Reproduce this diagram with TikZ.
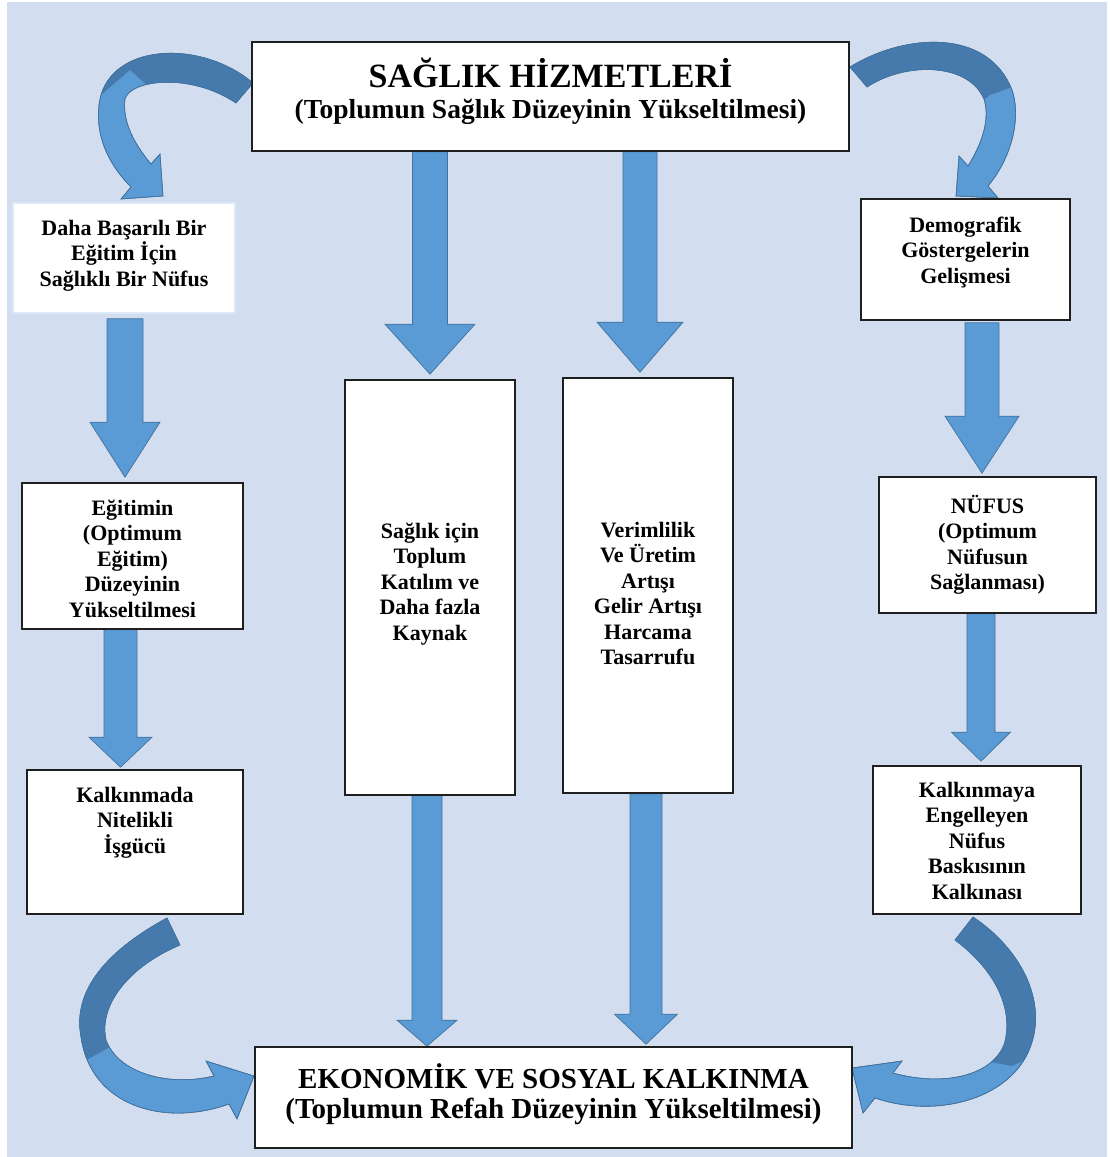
\documentclass[tikz,border=0pt]{standalone}
\usepackage{fontspec}
\setmainfont{Liberation Serif}
\usetikzlibrary{calc}
\definecolor{bgblue}{RGB}{210,222,239}
\definecolor{arrlight}{RGB}{91,155,213}
\definecolor{arrdark}{RGB}{70,122,172}
\definecolor{arredge}{RGB}{65,113,156}
\definecolor{dahaedge}{RGB}{222,232,246}
\pgfdeclarelayer{bglayer}
\pgfsetlayers{bglayer,main}
\tikzset{
  box/.style={draw=black!88, line width=1.6pt, fill=white, inner sep=0pt,
    font=\bfseries\fontsize{22}{25.5}\selectfont},
  softbox/.style={box, draw=dahaedge},
  bigbox/.style={box, font=\bfseries},
  barrow/.style={fill=arrlight, draw=arredge, line width=0.7pt, line join=miter},
  carrow/.style={fill=arrlight, draw=arredge, line width=0.6pt},
  cdark/.style={fill=arrdark},
}
\newcommand\bx[4]{\parbox[t][#2][t]{#1}{\centering\rule{0pt}{#3}#4}}
\newcommand\blockarr[5]{%
  \path[barrow] let \p1=#1, \p2=#2 in
    ({\x1-#3},\y1) -- ({\x1+#3},\y1) -- ({\x1+#3},{\y2+#5}) -- ({\x1+#4},{\y2+#5})
    -- (\x1,\y2) -- ({\x1-#4},{\y2+#5}) -- ({\x1-#3},{\y2+#5}) -- cycle;}
\newcommand\pathTL{(253,83) .. controls (200,38) and (106,43) .. (99,105) .. controls (95,140) and (112,168) .. (131,187) -- (121,199) -- (163,196) -- (160,154) -- (151,164) .. controls (135,145) and (122,122) .. (125,99) .. controls (130,80) and (190,72) .. (236,103) -- cycle}
\newcommand\pathTR{(850,67) .. controls (905,33) and (988,28) .. (1012,90) .. controls (1022,120) and (1010,160) .. (988,186) -- (998,198) -- (956,196) -- (959,156) -- (968,166) .. controls (983,142) and (990,118) .. (984,99) .. controls (968,62) and (905,62) .. (867,87) -- cycle}
\newcommand\pathBL{(167,918) .. controls (108,950) and (72,990) .. (81,1037) .. controls (91,1107) and (165,1127) .. (229,1104) -- (237,1119) -- (254,1076) -- (206,1061) -- (214,1076) .. controls (168,1087) and (118,1073) .. (106,1040) .. controls (98,1003) and (132,965) .. (180,945) -- cycle}
\newcommand\pathBR{(973,917) .. controls (1022,950) and (1045,1000) .. (1032,1042) .. controls (1016,1097) and (940,1120) .. (875,1098) -- (863,1113) -- (852,1068) -- (902,1061) -- (893,1073) .. controls (940,1086) and (990,1078) .. (1004,1045) .. controls (1014,1012) and (998,972) .. (955,940) -- cycle}
\begin{document}
\begin{tikzpicture}[x=1pt,y=-1pt]
\useasboundingbox (0,0) rectangle (1110,1157);
% boxes
\node[bigbox] (sag) at (550.5,96.5) {\bx{597pt}{109pt}{45pt}{\fontsize{27.5}{31}\selectfont{\fontsize{34}{31}\selectfont SAĞLIK HİZMETLERİ}\\(Toplumun Sağlık Düzeyinin Yükseltilmesi)}};
\node[softbox] (daha) at (124,258) {\bx{222pt}{110pt}{32pt}{Daha Başarılı Bir\\Eğitim İçin\\Sağlıklı Bir Nüfus}};
\node[box] (demo) at (965.5,259.5) {\bx{209pt}{121pt}{33pt}{Demografik\\Göstergelerin\\Gelişmesi}};
\node[box] (egit) at (132.5,556) {\bx{221pt}{146pt}{32pt}{Eğitimin\\(Optimum\\Eğitim)\\Düzeyinin\\Yükseltilmesi}};
\node[box] (kalkL) at (135,842) {\bx{216pt}{144pt}{32pt}{Kalkınmada\\Nitelikli\\İşgücü}};
\node[box] (mid1) at (430,587.5) {\bx{170pt}{415pt}{158pt}{Sağlık için\\Toplum\\Katılım ve\\Daha fazla\\Kaynak}};
\node[box] (mid2) at (648,585.5) {\bx{170pt}{415pt}{159pt}{Verimlilik\\Ve Üretim\\Artışı\\Gelir Artışı\\Harcama\\Tasarrufu}};
\node[box] (nufus) at (987.5,545) {\bx{217pt}{136pt}{36pt}{NÜFUS\\(Optimum\\Nüfusun\\Sağlanması)}};
\node[box] (kalkR) at (977,840) {\bx{208pt}{148pt}{31pt}{Kalkınmaya\\Engelleyen\\Nüfus\\Baskısının\\Kalkınası}};
\node[bigbox] (eko) at (553.5,1097.5) {\bx{597pt}{101pt}{41pt}{\fontsize{29}{30.5}\selectfont EKONOMİK VE SOSYAL KALKINMA\\(Toplumun Refah Düzeyinin Yükseltilmesi)}};
% arrow axes
\coordinate (cA1) at (125,0);
\coordinate (cA2) at (120.5,0);
\coordinate (cA3) at (430,0);
\coordinate (cA4) at (640,0);
\coordinate (cA5) at (427,0);
\coordinate (cA6) at (646,0);
\coordinate (cA7) at (982,0);
\coordinate (cA8) at (981,0);
\begin{pgfonlayer}{bglayer}
\fill[bgblue] (7,2) rectangle (1107,1157);
% curved arrows
\foreach \p/\c in {TL/{(60,130) -- (130,70) -- (175,110) -- (300,110) -- (300,0) -- (60,0) -- cycle},
                    TR/{(800,0) -- (1060,0) -- (1060,70) -- (990,95) -- (930,140) -- (800,140) -- cycle},
                    BL/{(40,880) -- (260,880) -- (260,1000) -- (140,1030) -- (60,1075) -- (40,1075) -- cycle},
                    BR/{(900,880) -- (1100,880) -- (1100,1025) -- (1012,1066) -- (980,1060) -- (900,1000) -- cycle}}{
  \path[carrow] \csname path\p\endcsname;
  \begin{scope}
    \clip \c;
    \path[cdark] \csname path\p\endcsname;
  \end{scope}
  \path[draw=arredge, line width=0.6pt] \csname path\p\endcsname;
}
% straight arrows
\blockarr{($(daha.south -| cA1)+(0,5)$)}{($(egit.north -| cA1)+(0,-5)$)}{18pt}{35pt}{55pt}
\blockarr{(egit.south -| cA2)}{($(kalkL.north -| cA2)+(0,-2)$)}{16.5pt}{31.5pt}{30pt}
\blockarr{(sag.south -| cA3)}{($(mid1.north -| cA3)+(0,-5)$)}{17.5pt}{45pt}{50pt}
\blockarr{(sag.south -| cA4)}{($(mid2.north -| cA4)+(0,-5)$)}{17pt}{43pt}{50pt}
\blockarr{(mid1.south -| cA5)}{(eko.north -| cA5)}{15pt}{30pt}{26pt}
\blockarr{(mid2.south -| cA6)}{($(eko.north -| cA6)+(0,-2)$)}{16pt}{31.5pt}{30pt}
\blockarr{($(demo.south -| cA7)+(0,2)$)}{($(nufus.north -| cA7)+(0,-3)$)}{17pt}{37pt}{57pt}
\blockarr{(nufus.south -| cA8)}{($(kalkR.north -| cA8)+(0,-4)$)}{14pt}{29.5pt}{29pt}
\end{pgfonlayer}
\end{tikzpicture}
\end{document}
